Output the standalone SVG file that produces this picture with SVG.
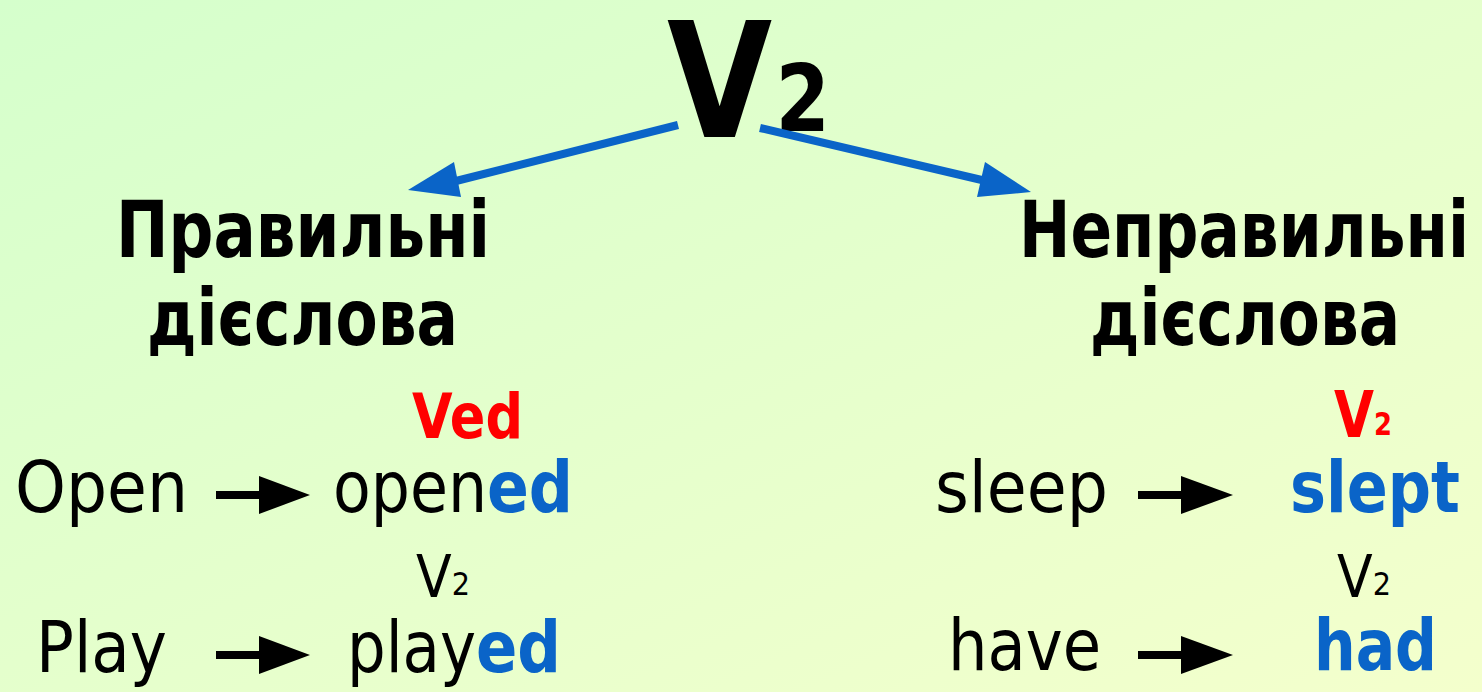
<svg xmlns="http://www.w3.org/2000/svg" width="1482" height="692" viewBox="0 0 1482 692">
<defs>
<linearGradient id="bg" x1="0" y1="0" x2="1" y2="1">
<stop offset="0" stop-color="#d5ffcc"/>
<stop offset="1" stop-color="#f4ffcc"/>
</linearGradient>
<style>
text{font-family:"DejaVu Sans","Liberation Sans",sans-serif;fill:#000}
.b{font-weight:bold}
.h{font-size:78px;font-weight:bold}
.w{font-size:72px}
.blue{fill:#0a64c8}
.red{fill:#ff0000}
.bl{stroke:#0a64c8;stroke-width:8;fill:none}
.bh{fill:#0a64c8}
.kl{stroke:#000;stroke-width:8;fill:none}
.kh{fill:#000}
</style>
</defs>
<rect width="1482" height="692" fill="url(#bg)"/>
<g id="title">
<text x="667" y="137" class="b" font-size="160" textLength="163" lengthAdjust="spacingAndGlyphs">V<tspan font-size="92" dx="4" dy="-6">2</tspan></text>
</g>
<g id="regular">
<text x="116" y="257" class="h" textLength="374" lengthAdjust="spacingAndGlyphs">Правильні</text>
<text x="147" y="345" class="h" textLength="311" lengthAdjust="spacingAndGlyphs">дієслова</text>
</g>
<g id="irregular">
<text x="1019" y="257" class="h" textLength="450" lengthAdjust="spacingAndGlyphs">Неправильні</text>
<text x="1090" y="345" class="h" textLength="310" lengthAdjust="spacingAndGlyphs">дієслова</text>
</g>
<g id="ex-open">
<text x="412" y="438" class="b red" font-size="62" textLength="111" lengthAdjust="spacingAndGlyphs">Ved</text>
<text x="15" y="512" class="w" textLength="173" lengthAdjust="spacingAndGlyphs">Open</text>
<text x="333" y="512" class="w" textLength="240" lengthAdjust="spacingAndGlyphs">open<tspan class="b blue">ed</tspan></text>
</g>
<g id="ex-play">
<text x="416" y="597" font-size="58" textLength="54" lengthAdjust="spacingAndGlyphs">V<tspan font-size="32" dy="-2">2</tspan></text>
<text x="36" y="672" class="w" textLength="131" lengthAdjust="spacingAndGlyphs">Play</text>
<text x="347" y="672" class="w" textLength="214" lengthAdjust="spacingAndGlyphs">play<tspan class="b blue">ed</tspan></text>
</g>
<g id="ex-sleep">
<text x="1334" y="437" class="b red" font-size="64" textLength="58" lengthAdjust="spacingAndGlyphs">V<tspan font-size="32" dy="-2">2</tspan></text>
<text x="935" y="512" class="w" textLength="173" lengthAdjust="spacingAndGlyphs">sleep</text>
<text x="1290" y="512" class="w b blue" textLength="170" lengthAdjust="spacingAndGlyphs">slept</text>
</g>
<g id="ex-have">
<text x="1337" y="597" font-size="58" textLength="54" lengthAdjust="spacingAndGlyphs">V<tspan font-size="32" dy="-2">2</tspan></text>
<text x="948" y="670" class="w" textLength="153" lengthAdjust="spacingAndGlyphs">have</text>
<text x="1314" y="670" class="w b blue" textLength="123" lengthAdjust="spacingAndGlyphs">had</text>
</g>
<g id="connectors">
<line class="bl" x1="678" y1="125" x2="452" y2="182"/>
<polygon class="bh" points="408,190 454,162 461,197"/>
<line class="bl" x1="760" y1="128" x2="986" y2="181"/>
<polygon class="bh" points="1031,192 985,162 977,197"/>
<line class="kl" x1="216" y1="495" x2="262" y2="495"/>
<polygon class="kh" points="259,476 310,495 259,514"/>
<line class="kl" x1="216" y1="655" x2="262" y2="655"/>
<polygon class="kh" points="259,636 310,655 259,674"/>
<line class="kl" x1="1138" y1="495" x2="1184" y2="495"/>
<polygon class="kh" points="1181,476 1233,495 1181,514"/>
<line class="kl" x1="1138" y1="655" x2="1184" y2="655"/>
<polygon class="kh" points="1181,636 1233,655 1181,674"/>
</g>
</svg>
